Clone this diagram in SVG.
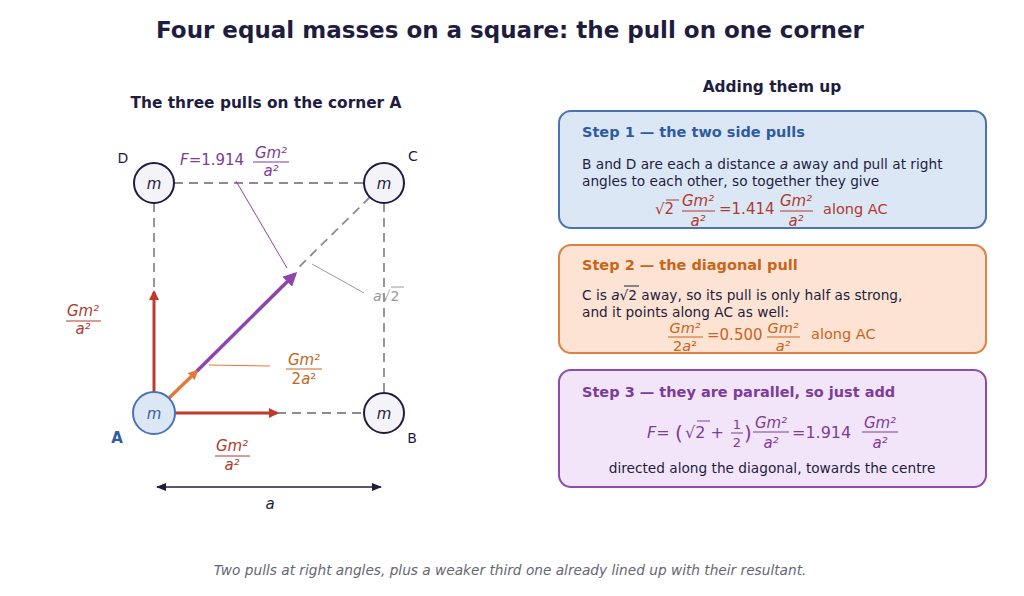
<svg xmlns="http://www.w3.org/2000/svg" width="1024" height="596" viewBox="0 0 1024 596">
<defs>
<style>
text{font-family:"DejaVu Sans","Liberation Sans",sans-serif}
.i{font-style:italic}
.red{fill:#b03a2e}.org{fill:#c8651b}.pur{fill:#7d3c98}.dk{fill:#1f1d3f}
.mass{fill:#f3f3f8;stroke:#1f1d3f;stroke-width:2}
.dash{stroke:#8a8a99;stroke-width:1.8;stroke-dasharray:9,6;fill:none}
</style>
<marker id="ar" markerWidth="10" markerHeight="10" refX="8" refY="5" orient="auto" markerUnits="userSpaceOnUse" viewBox="0 0 10 10"><path d="M0,0L10,5L0,10z" fill="#c0392b"/></marker>
<marker id="ao" markerWidth="10" markerHeight="10" refX="8" refY="5" orient="auto" markerUnits="userSpaceOnUse" viewBox="0 0 10 10"><path d="M0,0L10,5L0,10z" fill="#e07b39"/></marker>
<marker id="ap" markerWidth="14" markerHeight="14" refX="11" refY="7" orient="auto" markerUnits="userSpaceOnUse" viewBox="0 0 14 14"><path d="M0,0L14,7L0,14z" fill="#8e44ad"/></marker>
<marker id="ad" markerWidth="10" markerHeight="8" refX="9" refY="4" orient="auto-start-reverse" markerUnits="userSpaceOnUse" viewBox="0 0 10 8"><path d="M0,0L10,4L0,8z" fill="#1f1d3f"/></marker>
</defs>
<rect width="1024" height="596" fill="#fff"/>
<text x="510" y="38" text-anchor="middle" font-size="23" font-weight="bold" class="dk">Four equal masses on a square: the pull on one corner</text>
<text x="266" y="108" text-anchor="middle" font-size="15.4" font-weight="bold" class="dk">The three pulls on the corner A</text>
<text x="772" y="92" text-anchor="middle" font-size="15.4" font-weight="bold" class="dk">Adding them up</text>

<g id="connectors">
<line x1="174" y1="183" x2="364" y2="183" class="dash"/>
<line x1="154" y1="203" x2="154" y2="290" class="dash"/>
<line x1="384" y1="203" x2="384" y2="393" class="dash"/>
<line x1="277" y1="413" x2="364" y2="413" class="dash"/>
<line x1="370" y1="197" x2="296" y2="270" class="dash"/>
<line x1="154" y1="393" x2="154" y2="292" stroke="#c0392b" stroke-width="3" marker-end="url(#ar)"/>
<line x1="174" y1="413" x2="277" y2="413" stroke="#c0392b" stroke-width="3" marker-end="url(#ar)"/>
<line x1="169" y1="398" x2="197" y2="371" stroke="#e07b39" stroke-width="3.5" marker-end="url(#ao)"/>
<line x1="197" y1="371" x2="295" y2="274" stroke="#8e44ad" stroke-width="3.5" marker-end="url(#ap)"/>
<line x1="236" y1="181" x2="287" y2="268" stroke="#8e44ad" stroke-width="1"/>
<line x1="312" y1="264" x2="364" y2="293" stroke="#999" stroke-width="1"/>
<line x1="209" y1="365" x2="270" y2="366" stroke="#e07b39" stroke-width="1"/>
<line x1="157" y1="487" x2="381" y2="487" stroke="#1f1d3f" stroke-width="1.6" marker-start="url(#ad)" marker-end="url(#ad)"/>
</g>

<g id="nodeA"><circle cx="154" cy="413" r="21" fill="#dce7f6" stroke="#4a72b5" stroke-width="2"/><text x="154" y="419" text-anchor="middle" font-size="15" class="i" fill="#3b5f9c">m</text><text x="117" y="443" text-anchor="middle" font-size="15" font-weight="bold" fill="#2f5c9e">A</text></g>
<g id="nodeB"><circle cx="384" cy="413" r="20" class="mass"/><text x="384" y="419" text-anchor="middle" font-size="15" class="i dk">m</text><text x="412" y="443" text-anchor="middle" font-size="14" class="dk">B</text></g>
<g id="nodeC"><circle cx="384" cy="183" r="20" class="mass"/><text x="384" y="189" text-anchor="middle" font-size="15" class="i dk">m</text><text x="413" y="161" text-anchor="middle" font-size="14" class="dk">C</text></g>
<g id="nodeD"><circle cx="154" cy="183" r="20" class="mass"/><text x="154" y="189" text-anchor="middle" font-size="15" class="i dk">m</text><text x="123" y="163" text-anchor="middle" font-size="14" class="dk">D</text></g>

<g id="labels">
<text x="83" y="316" text-anchor="middle" font-size="15" class="i red">Gm²</text><line x1="66" y1="321" x2="101" y2="321" stroke="#b03a2e"/><text x="83" y="334" text-anchor="middle" font-size="15" class="i red">a²</text>
<text x="232" y="451" text-anchor="middle" font-size="15" class="i red">Gm²</text><line x1="215" y1="456" x2="250" y2="456" stroke="#b03a2e"/><text x="232" y="470" text-anchor="middle" font-size="15" class="i red">a²</text>
<text x="304" y="365" text-anchor="middle" font-size="15" class="i org">Gm²</text><line x1="286" y1="369" x2="322" y2="369" stroke="#c8651b"/><text x="304" y="384" text-anchor="middle" font-size="15" class="org">2<tspan class="i">a</tspan>²</text>
<text x="180" y="165" font-size="15" class="pur"><tspan class="i">F</tspan>=1.914</text><text x="271" y="158" text-anchor="middle" font-size="15" class="i pur">Gm²</text><line x1="253" y1="162" x2="289" y2="162" stroke="#7d3c98"/><text x="271" y="176" text-anchor="middle" font-size="15" class="i pur">a²</text>
<text x="373" y="301" font-size="14" fill="#999"><tspan class="i">a</tspan>√2</text><line x1="391" y1="287" x2="404" y2="287" stroke="#999"/>
<text x="270" y="509" text-anchor="middle" font-size="15" class="i dk">a</text>
</g>

<g id="step1">
<rect x="559" y="111" width="427" height="117" rx="12" fill="#dce7f6" stroke="#4a72b5" stroke-width="2"/>
<text x="582" y="137" font-size="14.5" font-weight="bold" fill="#2f5c9e">Step 1 — the two side pulls</text>
<text x="582" y="169" font-size="13.7" class="dk">B and D are each a distance <tspan class="i">a</tspan> away and pull at right</text>
<text x="582" y="186" font-size="13.7" class="dk">angles to each other, so together they give</text>
<text x="655" y="214" font-size="15" class="red">√2</text><line x1="666" y1="200" x2="679" y2="200" stroke="#b03a2e"/>
<text x="698" y="206" text-anchor="middle" font-size="15" class="i red">Gm²</text><line x1="682" y1="211" x2="715" y2="211" stroke="#b03a2e"/><text x="698" y="226" text-anchor="middle" font-size="15" class="i red">a²</text>
<text x="719" y="214" font-size="15" class="red">=1.414</text>
<text x="796" y="206" text-anchor="middle" font-size="15" class="i red">Gm²</text><line x1="780" y1="211" x2="813" y2="211" stroke="#b03a2e"/><text x="796" y="226" text-anchor="middle" font-size="15" class="i red">a²</text>
<text x="823" y="214" font-size="14.5" class="red">along AC</text>
</g>

<g id="step2">
<rect x="559" y="245" width="427" height="108" rx="12" fill="#fde3d3" stroke="#e0823f" stroke-width="2"/>
<text x="582" y="270" font-size="14.5" font-weight="bold" fill="#c8651b">Step 2 — the diagonal pull</text>
<text x="582" y="300" font-size="13.7" class="dk">C is <tspan class="i">a</tspan>√2 away, so its pull is only half as strong,</text><line x1="624" y1="286" x2="639" y2="286" stroke="#1f1d3f"/>
<text x="582" y="317" font-size="13.7" class="dk">and it points along AC as well:</text>
<text x="685" y="333" text-anchor="middle" font-size="14.5" class="i org">Gm²</text><line x1="668" y1="337" x2="703" y2="337" stroke="#c8651b"/><text x="685" y="351" text-anchor="middle" font-size="14.5" class="org">2<tspan class="i">a</tspan>²</text>
<text x="707" y="340" font-size="15" class="org">=0.500</text>
<text x="783" y="333" text-anchor="middle" font-size="14.5" class="i org">Gm²</text><line x1="767" y1="337" x2="800" y2="337" stroke="#c8651b"/><text x="783" y="351" text-anchor="middle" font-size="14.5" class="i org">a²</text>
<text x="811" y="339" font-size="14.5" class="org">along AC</text>
</g>

<g id="step3">
<rect x="559" y="370" width="427" height="117" rx="12" fill="#f3e5f9" stroke="#8e4bb0" stroke-width="2"/>
<text x="582" y="397" font-size="14.5" font-weight="bold" fill="#7d3c98">Step 3 — they are parallel, so just add</text>
<text x="647" y="438" font-size="16" class="pur"><tspan class="i">F</tspan>=</text>
<text x="675" y="440" font-size="20" class="pur">(</text>
<text x="685" y="438" font-size="16" class="pur">√2 +</text><line x1="697" y1="421" x2="710" y2="421" stroke="#7d3c98"/>
<text x="737" y="429" text-anchor="middle" font-size="13" class="pur">1</text><line x1="731" y1="433" x2="743" y2="433" stroke="#7d3c98"/><text x="737" y="447" text-anchor="middle" font-size="13" class="pur">2</text>
<text x="744" y="440" font-size="20" class="pur">)</text>
<text x="771" y="428" text-anchor="middle" font-size="15" class="i pur">Gm²</text><line x1="753" y1="432" x2="789" y2="432" stroke="#7d3c98"/><text x="771" y="448" text-anchor="middle" font-size="15" class="i pur">a²</text>
<text x="792" y="438" font-size="16" class="pur">=1.914</text>
<text x="880" y="428" text-anchor="middle" font-size="15" class="i pur">Gm²</text><line x1="862" y1="432" x2="898" y2="432" stroke="#7d3c98"/><text x="880" y="448" text-anchor="middle" font-size="15" class="i pur">a²</text>
<text x="772" y="473" text-anchor="middle" font-size="13.7" class="dk">directed along the diagonal, towards the centre</text>
</g>

<text x="510" y="575" text-anchor="middle" font-size="13.7" font-style="italic" fill="#666672">Two pulls at right angles, plus a weaker third one already lined up with their resultant.</text>
</svg>
